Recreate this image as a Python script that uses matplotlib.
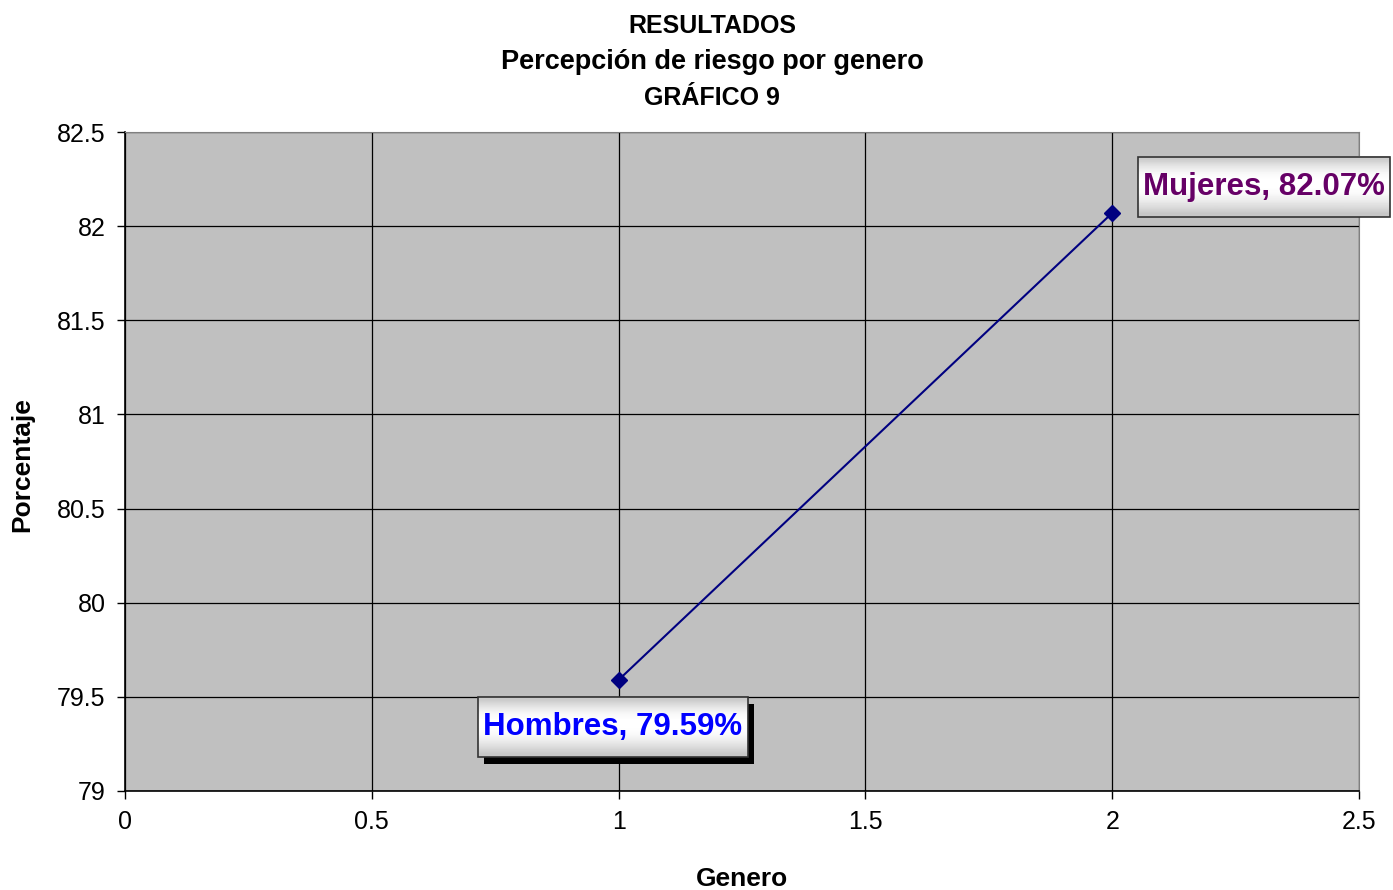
import matplotlib
matplotlib.use("Agg")
import matplotlib.pyplot as plt
from matplotlib.patches import Rectangle
import numpy as np

# datos del grafico
genero = [1, 2]
porcentaje = [79.59, 82.07]
etiquetas = ["Hombres", "Mujeres"]
colores_etiqueta = ["#0000FF", "#660066"]
# desplazamiento de cada etiqueta respecto a su punto (en puntos)
desplaz = [(-4, -34), (109, 19)]

plt.rcParams["font.family"] = ["Liberation Sans", "DejaVu Sans"]

fig = plt.figure(figsize=(13.93, 8.90), dpi=100)
ax = fig.add_axes([125 / 1393, 1 - 791 / 890, (1359 - 125) / 1393, (791 - 132) / 890])
ax.set_facecolor("#C0C0C0")

ax.plot(genero, porcentaje, color="#000080", lw=1.5, marker="D", ms=8,
        mfc="#000080", mec="#000080", zorder=3)

ax.set_xlim(0, 2.5)
ax.set_ylim(79, 82.5)
ax.set_xticks(np.arange(0, 2.51, 0.5))
ax.set_yticks(np.arange(79, 82.51, 0.5))
ax.set_xticklabels(["0", "0.5", "1", "1.5", "2", "2.5"])
ax.set_yticklabels(["79", "79.5", "80", "80.5", "81", "81.5", "82", "82.5"])
ax.grid(True, color="black", lw=0.9)
ax.set_axisbelow(True)
ax.tick_params(direction="out", length=6, width=1, labelsize=18, pad=8)
for s in ["top", "right"]:
    ax.spines[s].set_color("#808080")
for s in ["left", "bottom"]:
    ax.spines[s].set_color("black")
    ax.spines[s].set_linewidth(1.2)

fig.text(712 / 1393, 1 - 26 / 890, "RESULTADOS", ha="center", va="center",
         fontsize=18, fontweight="bold")
fig.text(712 / 1393, 1 - 62 / 890, "Percepción de riesgo por genero", ha="center",
         va="center", fontsize=19.5, fontweight="bold")
fig.text(712 / 1393, 1 - 98 / 890, "GRÁFICO 9", ha="center", va="center",
         fontsize=18, fontweight="bold")
fig.text(742 / 1393, 1 - 879 / 890, "Genero", ha="center", va="center",
         fontsize=19, fontweight="bold")
fig.text(22 / 1393, 1 - 465 / 890, "Porcentaje", ha="center", va="center",
         fontsize=19, fontweight="bold", rotation=90)

# etiquetas de datos con caja degradada
textos = []
for x, y, nom, c, off in zip(genero, porcentaje, etiquetas, colores_etiqueta, desplaz):
    t = ax.annotate(f"{nom}, {y:.2f}%", xy=(x, y), xytext=off,
                    textcoords="offset points", ha="center", va="center",
                    fontsize=22.5, fontweight="bold", color=c, zorder=10,
                    annotation_clip=False)
    textos.append(t)

fig.canvas.draw()
inv = ax.transData.inverted()
grad = np.array([0.80, 0.90, 0.97, 1.0, 1.0, 0.98, 0.93, 0.86, 0.78]).reshape(-1, 1)
grad = np.repeat(grad, 2, axis=1)
for i, t in enumerate(textos):
    bb = t.get_window_extent()
    cx, cy = (bb.x0 + bb.x1) / 2, (bb.y0 + bb.y1) / 2
    w, h = bb.width + 10, 60
    (x0, y0) = inv.transform((cx - w / 2, cy - h / 2))
    (x1, y1) = inv.transform((cx + w / 2, cy + h / 2))
    if i == 0:
        (sx, sy) = inv.transform((cx - w / 2 + 6, cy - h / 2 - 7))
        ax.add_patch(Rectangle((sx, sy), x1 - x0, y1 - y0, facecolor="black",
                               edgecolor="none", zorder=7, clip_on=False))
    ax.imshow(grad, cmap="gray", vmin=0, vmax=1, extent=(x0, x1, y0, y1),
              aspect="auto", zorder=8, clip_on=False, interpolation="bilinear")
    ax.add_patch(Rectangle((x0, y0), x1 - x0, y1 - y0, facecolor="none",
                           edgecolor="#333333", lw=1.2, zorder=9, clip_on=False))

ax.set_xlim(0, 2.5)
ax.set_ylim(79, 82.5)

fig.savefig("out.png", dpi=100)
